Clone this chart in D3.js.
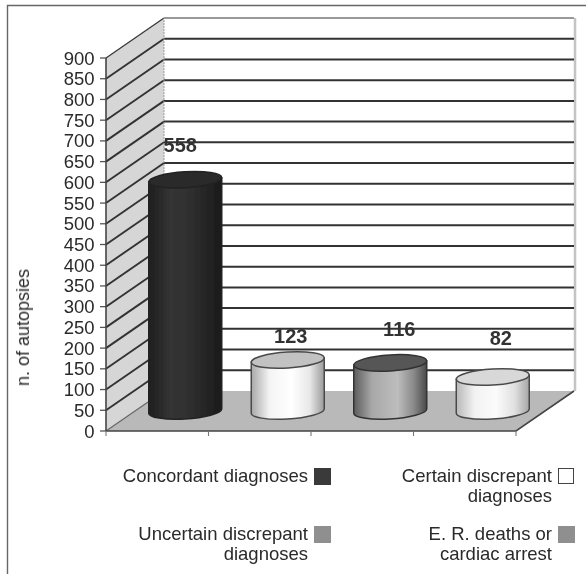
<!DOCTYPE html>
<html><head><meta charset="utf-8">
<script src="https://cdn.jsdelivr.net/npm/d3@7"></script>
<style>html,body{margin:0;padding:0;background:#fff}svg{display:block}text{font-family:"Liberation Sans",Arial,sans-serif;fill:#2a2a2a}</style>
</head><body><div id="c"></div>
<script>
const categories=["Concordant diagnoses","Certain discrepant diagnoses","Uncertain discrepant diagnoses","E. R. deaths or cardiac arrest"];
const values=[558,123,116,82];
const yTicks=[0,50,100,150,200,250,300,350,400,450,500,550,600,650,700,750,800,850,900];
const legendLines=[["Concordant diagnoses"],["Certain discrepant","diagnoses"],["Uncertain discrepant","diagnoses"],["E. R. deaths or","cardiac arrest"]];
const legendColors=["#3a3a3a","#ffffff","#8f8f90","#8f8f90"];
const sideStops=[
 [["0%","#1e1e1e"],["30%","#343434"],["60%","#2e2e2e"],["100%","#1a1a1a"]],
 [["0%","#a8a8a8"],["25%","#f4f4f4"],["55%","#ffffff"],["80%","#e8e8e8"],["100%","#9a9a9a"]],
 [["0%","#5c5c5c"],["25%","#a8a8a8"],["60%","#bdbdbd"],["82%","#8a8a8a"],["100%","#4a4a4a"]],
 [["0%","#b8b8b8"],["25%","#f2f2f2"],["55%","#fbfbfb"],["80%","#e0e0e0"],["100%","#a5a5a5"]]];
const topColors=["#2a2a2a","#c2c2c2","#565656","#d8d8d8"];
const strokeColors=["#222","#4a4a4a","#333","#4a4a4a"];
const labelNudge=[[-5,-28],[3,-17],[9,-27],[8,-32]];

const W=586,H=574;
const svg=d3.select("#c").append("svg").attr("width",W).attr("height",H);
const defs=svg.append("defs");
defs.append("filter").attr("id","soft").append("feGaussianBlur").attr("stdDeviation",0.55);
defs.append("filter").attr("id","softText").append("feGaussianBlur").attr("stdDeviation",0.3);
sideStops.forEach((s,i)=>{
  const g=defs.append("linearGradient").attr("id","g"+i);
  s.forEach(d=>g.append("stop").attr("offset",d[0]).attr("stop-color",d[1]));
});

// frame
svg.append("path").attr("d",`M7.5,${H}V5.5H586`).attr("fill","none").attr("stroke","#666").attr("stroke-width",1.4);

const x0=106,x1=516,dx=58,dy=-40;
const y=d3.scaleLinear().domain([0,900]).range([431,58]);
const x=d3.scaleBand().domain(categories).range([x0,x1]);
const g=svg.append("g").attr("filter","url(#soft)");
const line=d3.line();

// left wall
g.append("path").attr("d",line([[x0,y(0)],[x0,y(900)],[x0+dx,y(900)+dy],[x0+dx,y(0)+dy]])+"Z").attr("fill","#d6d6d6");
// floor
g.append("path").attr("d",line([[x0,y(0)],[x0+dx,y(0)+dy],[x1+dx,y(0)+dy],[x1,y(0)]])+"Z").attr("fill","#b9b9b9");
// right thin edge of back wall
g.append("path").attr("d",line([[x1+dx+1,y(0)+dy],[x1+dx+1,y(900)+dy]])).attr("stroke","#c4c4c4").attr("stroke-width",2.5);
// gridlines
yTicks.forEach(t=>{
  if(t>0) g.append("path").attr("d",line([[x0+dx,y(t)+dy],[x1+dx,y(t)+dy]])).attr("stroke",t===900?"#777":"#333").attr("stroke-width",t===900?1.3:2).attr("fill","none");
  g.append("path").attr("d",line([[x0,y(t)],[x0+dx,y(t)+dy]])).attr("stroke",t===0?"#666":"#333").attr("stroke-width",t===0||t===900?1.2:1.9).attr("fill","none");
  g.append("path").attr("d",line([[x0-6,y(t)],[x0,y(t)]])).attr("stroke","#555").attr("stroke-width",1.3);
});
g.append("path").attr("d",line([[x0+dx,y(0)+dy],[x0+dx,y(900)+dy]])).attr("stroke","#999").attr("stroke-width",1).attr("stroke-dasharray","2,1");
g.append("path").attr("d",line([[x0,y(0)],[x0,y(900)]])).attr("stroke","#444").attr("stroke-width",1.6);
g.append("path").attr("d",line([[x0,y(0)],[x1,y(0)],[x1+dx,y(0)+dy]])).attr("stroke","#444").attr("stroke-width",1.6).attr("fill","none");
// x ticks
x.domain().concat(["end"]).forEach((c,i)=>{
  const px=x0+i*x.bandwidth();
  g.append("path").attr("d",line([[px,y(0)],[px,y(0)+5]])).attr("stroke","#777").attr("stroke-width",1.1);
});
// cylinders
const rx=36.5,ry=8,tilt=-3.5;
categories.forEach((c,i)=>{
  const cx=x(c)+x.bandwidth()/2+dx/2-1;
  const yb=y(0)+dy/2, yt=y(values[i])+dy/2;
  const cyl=g.append("g");
  cyl.append("path").attr("d",`M${cx-rx},${yt+2}V${yb+2}A${rx},${ry} ${tilt} 0 0 ${cx+rx},${yb-2}V${yt-2}Z`)
    .attr("fill",`url(#g${i})`).attr("stroke",strokeColors[i]).attr("stroke-width",1.5);
  cyl.append("ellipse").attr("cx",cx).attr("cy",yt).attr("rx",rx).attr("ry",ry)
    .attr("transform",`rotate(${tilt} ${cx} ${yt})`)
    .attr("fill",topColors[i]).attr("stroke",strokeColors[i]).attr("stroke-width",1.5);
  svg.append("text").attr("x",cx+labelNudge[i][0]).attr("y",yt+labelNudge[i][1]).attr("text-anchor","middle")
    .attr("filter","url(#softText)")
    .attr("font-size",20).attr("font-weight","bold").style("fill","#333").text(values[i]);
});
// y tick labels
const tl=svg.append("g").attr("filter","url(#softText)");
yTicks.forEach(t=>tl.append("text").attr("x",94.5).attr("y",y(t)+6.5).attr("text-anchor","end").attr("font-size",18.5).text(t));
tl.append("text").attr("transform","translate(29,327.5) rotate(-90)").attr("text-anchor","middle").attr("font-size",18).text("n. of autopsies");
// legend
const legendPos=[[308,482],[552,482],[308,540],[552,540]];
const boxX=[314,558];
legendLines.forEach((ls,i)=>{
  const [lx,ly]=legendPos[i];
  ls.forEach((s,j)=>tl.append("text").attr("x",lx).attr("y",ly+j*19.5).attr("text-anchor","end").attr("font-size",18.5).text(s));
  svg.append("rect").attr("x",boxX[i%2]+(i===1?.5:0)).attr("y",ly-14+(i===1?.5:0)).attr("width",i===1?15:17).attr("height",i===1?15:17)
    .attr("fill",legendColors[i]).attr("stroke",i===1?"#444":"none");
});
</script></body></html>
